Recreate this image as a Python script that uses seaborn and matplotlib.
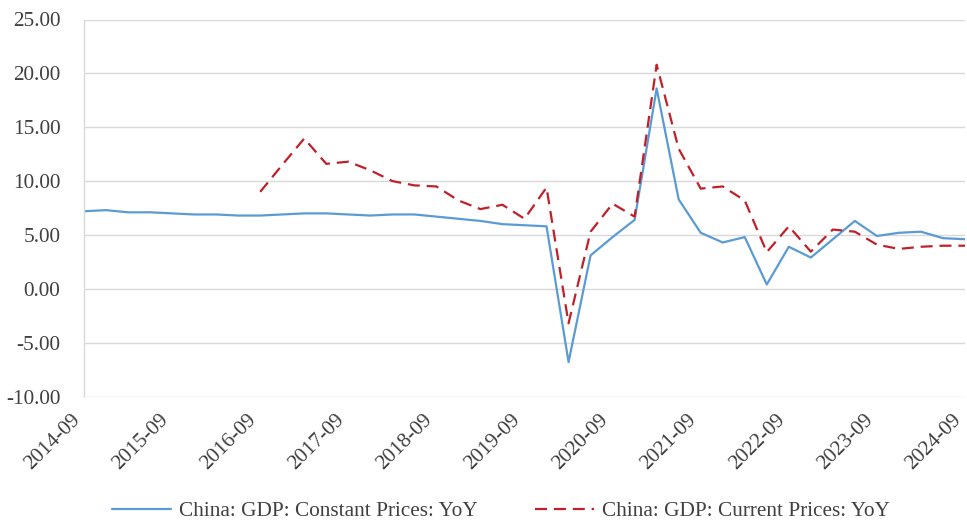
import numpy as np
import pandas as pd
import matplotlib
matplotlib.use("Agg")
import matplotlib.pyplot as plt
import seaborn as sns

quarters = ["2014-09", "2014-12", "2015-03", "2015-06", "2015-09", "2015-12", "2016-03", "2016-06",
            "2016-09", "2016-12", "2017-03", "2017-06", "2017-09", "2017-12", "2018-03", "2018-06",
            "2018-09", "2018-12", "2019-03", "2019-06", "2019-09", "2019-12", "2020-03", "2020-06",
            "2020-09", "2020-12", "2021-03", "2021-06", "2021-09", "2021-12", "2022-03", "2022-06",
            "2022-09", "2022-12", "2023-03", "2023-06", "2023-09", "2023-12", "2024-03", "2024-06",
            "2024-09"]

constant_yoy = [7.2, 7.3, 7.1, 7.1, 7.0, 6.9, 6.9, 6.8,
                6.8, 6.9, 7.0, 7.0, 6.9, 6.8, 6.9, 6.9,
                6.7, 6.5, 6.3, 6.0, 5.9, 5.8, -6.8, 3.1,
                4.8, 6.4, 18.6, 8.3, 5.2, 4.3, 4.8, 0.4,
                3.9, 2.9, 4.6, 6.3, 4.9, 5.2, 5.3, 4.7,
                4.6]

current_yoy = [np.nan, np.nan, np.nan, np.nan, np.nan, np.nan, np.nan, np.nan,
               9.0, 11.5, 13.95, 11.6, 11.8, 11.0, 10.0, 9.6,
               9.5, 8.2, 7.4, 7.8, 6.5, 9.4, -3.2, 5.3,
               7.9, 6.7, 20.8, 13.0, 9.3, 9.5, 8.2, 3.4,
               5.8, 3.45, 5.5, 5.3, 4.1, 3.7, 3.9, 4.0,
               4.0]

series_names = ["China: GDP: Constant Prices: YoY", "China: GDP: Current Prices: YoY"]
y_ticks = [-10, -5, 0, 5, 10, 15, 20, 25]

sns.set_theme(style="white")
plt.rcParams["font.family"] = ["Liberation Serif", "DejaVu Serif"]

df = pd.DataFrame({"idx": np.arange(len(quarters)),
                   "const": constant_yoy,
                   "curr": current_yoy})

fig = plt.figure(figsize=(9.67, 5.21), dpi=100)
ax = fig.add_axes([84 / 967, 1 - 396.5 / 521, (965 - 84) / 967, (396.5 - 19.5) / 521])

sns.lineplot(data=df, x="idx", y="const", ax=ax, color="#5B9BD5", linewidth=1.6,
             label=series_names[0], legend=False)
sns.lineplot(data=df, x="idx", y="curr", ax=ax, color="#C0202A", linewidth=1.6,
             label=series_names[1], legend=False)
ax.lines[1].set_dashes([5.4, 3.1])

ax.set_xlim(0, len(quarters) - 1)
ax.set_ylim(-10, 25)
ax.set_yticks(y_ticks)
ax.set_yticklabels([f"{v:.2f}" for v in y_ticks])
tick_pos = list(range(0, len(quarters), 4))
ax.set_xticks(tick_pos)
ax.set_xticklabels([quarters[i] for i in tick_pos], rotation=45, ha="right",
                   va="bottom", rotation_mode="anchor")
ax.set_xlabel("")
ax.set_ylabel("")

ax.grid(axis="y", color="#D9D9D9", linewidth=1.0)
ax.grid(axis="x", visible=False)
for s in ["top", "right", "bottom"]:
    ax.spines[s].set_visible(False)
ax.spines["left"].set_color("#D9D9D9")
ax.spines["left"].set_linewidth(1.0)
ax.tick_params(axis="both", length=0, labelsize=15.3, colors="#404040")
ax.tick_params(axis="y", pad=17)
ax.tick_params(axis="x", pad=19.5)

handles = ax.lines[:2]
leg = fig.legend(handles, series_names, loc="center",
                 bbox_to_anchor=(500.5 / 967, 1 - 511 / 521), ncol=2,
                 frameon=False, fontsize=15.3, handlelength=2.8, columnspacing=2.7,
                 handletextpad=0.35, borderpad=0.0, borderaxespad=0.0)
for t in leg.get_texts():
    t.set_color("#404040")

fig.savefig("out.png", dpi=100)
